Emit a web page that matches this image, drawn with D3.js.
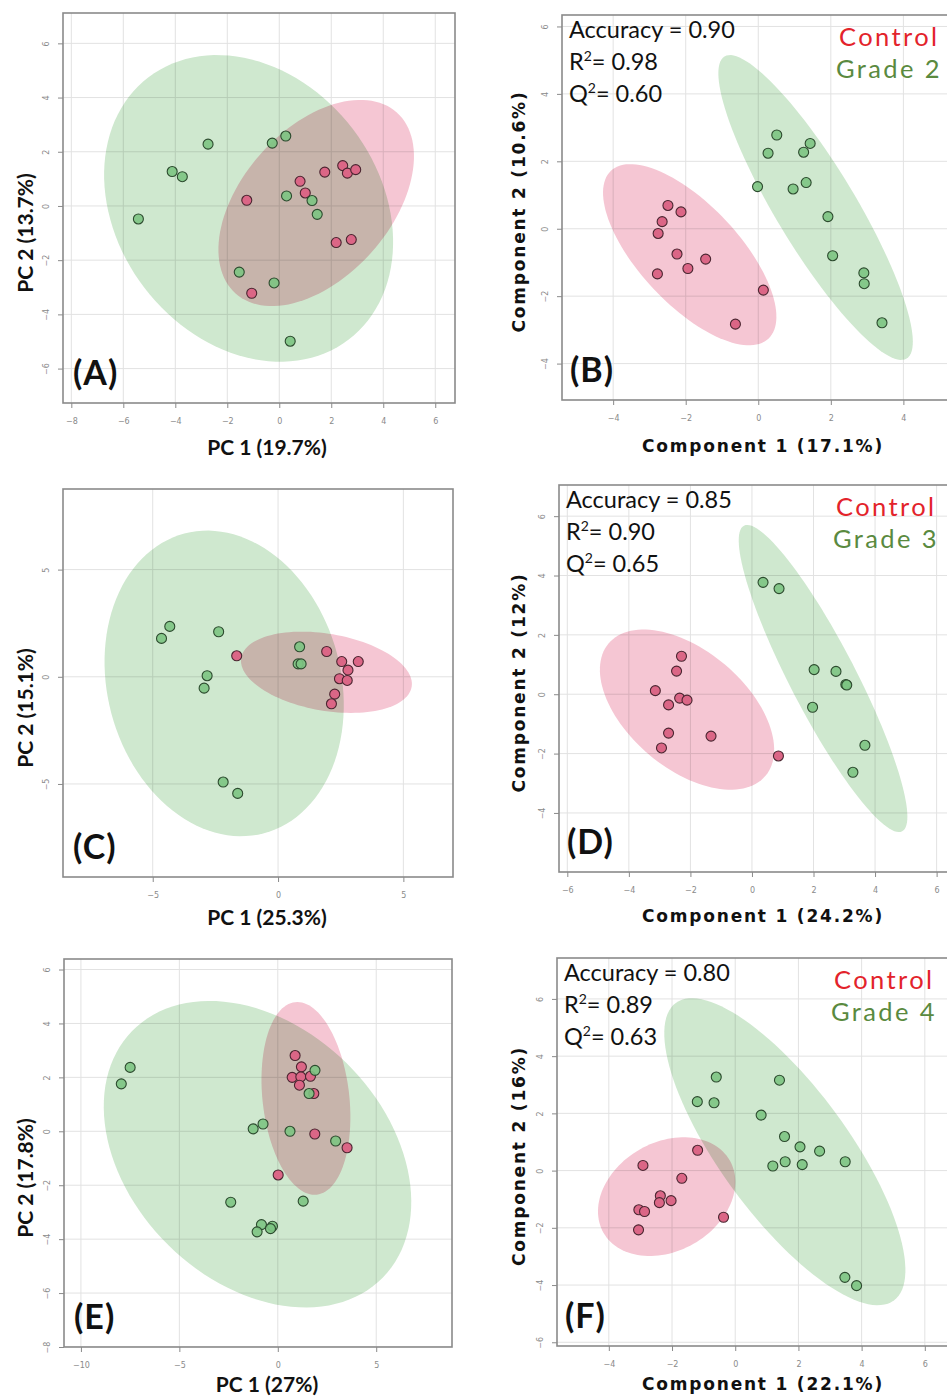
<!DOCTYPE html>
<html>
<head>
<meta charset="utf-8">
<script src="https://cdn.jsdelivr.net/npm/d3@7"></script>
<style>
  body { margin: 0; background: #fff; }
  svg { display: block; }
</style>
</head>
<body>
<svg id="fig" width="947" height="1399"></svg>
<script>
// ---- values (data units of each panel) ----
// points are [x, y]; ellipses are [cx, cy, ux, uy, vx, vy] (centre + two conjugate semi-axes)

// (A) PCA control vs grade 2
var aControl = [[-1.25,0.21],[0.80,0.91],[1.00,0.48],[1.75,1.25],[2.44,1.49],[2.62,1.21],[2.94,1.34],[2.19,-1.35],[2.77,-1.24],[-1.06,-3.22]];
var aGrade = [[-5.42,-0.48],[-4.12,1.27],[-3.73,1.08],[-2.74,2.28],[-0.27,2.32],[0.25,2.58],[0.28,0.37],[1.26,0.20],[1.46,-0.31],[-1.54,-2.44],[-0.20,-2.84],[0.42,-4.99]];
var aControlEllipse = [1.42, 0.11, 3.10, 3.34, 2.13, -1.82];
var aGradeEllipse = [-1.18, -0.09, 3.85, -4.84, -4.01, -2.93];
var aXTicks = [-8, -6, -4, -2, 0, 2, 4, 6];
var aYTicks = [-6, -4, -2, 0, 2, 4, 6];
var aXDomain = [-8.32, 6.76];
var aYDomain = [-7.27, 7.12];

// (B) PLS-DA control vs grade 2
var bControl = [[-2.49,0.69],[-2.13,0.50],[-2.65,0.21],[-2.76,-0.14],[-2.24,-0.75],[-1.94,-1.18],[-1.45,-0.90],[-2.78,-1.34],[0.14,-1.82],[-0.63,-2.83]];
var bGrade = [[0.51,2.78],[0.27,2.24],[1.25,2.27],[1.43,2.53],[-0.02,1.25],[0.96,1.18],[1.32,1.37],[1.92,0.36],[2.05,-0.80],[2.91,-1.31],[2.92,-1.63],[3.41,-2.79]];
var bControlEllipse = [-1.89, -0.77, 2.17, -2.49, -1.00, -1.01];
var bGradeEllipse = [1.58, 0.63, 2.51, -4.48, -0.94, -0.61];
var bXTicks = [-4, -2, 0, 2, 4];
var bYTicks = [-4, -2, 0, 2, 4, 6];
var bXDomain = [-5.41, 5.34];
var bYDomain = [-5.08, 6.34];
var bStats = ["0.90", "0.98", "0.60"];

// (C) PCA control vs grade 3
var cControl = [[-1.65,0.98],[1.94,1.18],[2.54,0.71],[3.20,0.71],[2.79,0.31],[2.45,-0.09],[2.76,-0.17],[2.26,-0.81],[2.13,-1.26]];
var cGrade = [[-4.65,1.79],[-4.32,2.35],[-2.37,2.10],[-2.83,0.05],[-2.95,-0.53],[0.86,1.40],[0.80,0.60],[0.92,0.60],[-2.19,-4.91],[-1.61,-5.44]];
var cControlEllipse = [1.93, 0.21, 3.40, -0.68, -0.26, -1.77];
var cGradeEllipse = [-2.15, -0.31, 1.59, -6.99, -4.50, -1.40];
var cXTicks = [-5, 0, 5];
var cYTicks = [-5, 0, 5];
var cXDomain = [-8.58, 6.98];
var cYDomain = [-9.34, 8.76];

// (D) PLS-DA control vs grade 3
var dControl = [[-2.29,1.28],[-2.45,0.78],[-3.14,0.12],[-2.35,-0.13],[-2.11,-0.20],[-2.71,-0.36],[-2.71,-1.31],[-2.94,-1.81],[-1.33,-1.41],[0.86,-2.08]];
var dGrade = [[0.36,3.77],[0.88,3.56],[2.02,0.83],[2.73,0.77],[3.05,0.33],[3.08,0.31],[1.97,-0.44],[3.67,-1.72],[3.28,-2.63]];
var dControlEllipse = [-2.11, -0.52, 2.55, -2.23, -1.23, -1.52];
var dGradeEllipse = [2.31, 0.53, 2.57, -5.15, -0.95, -0.51];
var dXTicks = [-6, -4, -2, 0, 2, 4, 6];
var dYTicks = [-4, -2, 0, 2, 4, 6];
var dXDomain = [-6.27, 6.50];
var dYDomain = [-5.99, 7.05];
var dStats = ["0.85", "0.90", "0.65"];

// (E) PCA control vs grade 4
var eControl = [[0.88,2.81],[1.20,2.39],[0.73,2.00],[1.17,2.02],[1.66,2.04],[1.10,1.71],[1.83,1.40],[1.88,-0.10],[3.52,-0.61],[0.02,-1.62]];
var eGrade = [[-7.50,2.37],[-7.95,1.76],[1.89,2.26],[1.59,1.40],[-1.25,0.09],[-0.75,0.27],[0.62,0.00],[2.94,-0.36],[-2.39,-2.63],[1.29,-2.59],[-0.83,-3.46],[-1.05,-3.73],[-0.27,-3.52],[-0.37,-3.61]];
var eControlEllipse = [1.43, 1.22, 0.55, -3.57, -2.19, -0.18];
var eGradeEllipse = [-1.03, -0.85, 6.37, -4.57, -4.52, -3.38];
var eXTicks = [-10, -5, 0, 5];
var eYTicks = [-8, -6, -4, -2, 0, 2, 4, 6];
var eXDomain = [-10.86, 8.85];
var eYDomain = [-8.0, 6.39];

// (F) PLS-DA control vs grade 4
var fControl = [[-1.19,0.71],[-2.92,0.18],[-1.69,-0.27],[-2.37,-0.88],[-2.40,-1.12],[-2.03,-1.05],[-3.05,-1.37],[-2.87,-1.43],[-0.37,-1.63],[-3.06,-2.07]];
var fGrade = [[-0.60,3.27],[1.40,3.16],[-1.20,2.41],[-0.67,2.37],[0.82,1.94],[1.56,1.19],[2.05,0.83],[2.67,0.68],[3.48,0.31],[1.58,0.31],[1.19,0.16],[2.12,0.21],[3.47,-3.73],[3.84,-4.02]];
var fControlEllipse = [-2.17, -0.91, 2.00, 1.26, 0.85, -1.65];
var fGradeEllipse = [1.57, 0.66, 3.45, -5.20, -1.63, -1.32];
var fXTicks = [-4, -2, 0, 2, 4, 6];
var fYTicks = [-6, -4, -2, 0, 2, 4, 6];
var fXDomain = [-5.64, 6.86];
var fYDomain = [-6.13, 7.43];
var fStats = ["0.80", "0.89", "0.63"];

var xTitles = ["PC 1 (19.7%)", "Component 1 (17.1%)", "PC 1 (25.3%)", "Component 1 (24.2%)", "PC 1 (27%)", "Component 1 (22.1%)"];
var yTitles = ["PC 2 (13.7%)", "Component 2 (10.6%)", "PC 2 (15.1%)", "Component 2 (12%)", "PC 2 (17.8%)", "Component 2 (16%)"];
var groupNames = ["Control", "Grade 2", "Grade 3", "Grade 4"];

// ---- layout ----
var panels = [
  { id: "A", left: 63, top: 13, width: 392, height: 390, pls: false, titleDy: 52,
    control: aControl, grade: aGrade, ce: aControlEllipse, ge: aGradeEllipse,
    xTicks: aXTicks, yTicks: aYTicks, xDomain: aXDomain, yDomain: aYDomain },
  { id: "B", left: 562, top: 15, width: 390, height: 385, pls: true, titleDy: 52, stats: bStats, grade2: groupNames[1],
    control: bControl, grade: bGrade, ce: bControlEllipse, ge: bGradeEllipse,
    xTicks: bXTicks, yTicks: bYTicks, xDomain: bXDomain, yDomain: bYDomain },
  { id: "C", left: 63, top: 489, width: 390, height: 388, pls: false, titleDy: 48,
    control: cControl, grade: cGrade, ce: cControlEllipse, ge: cGradeEllipse,
    xTicks: cXTicks, yTicks: cYTicks, xDomain: cXDomain, yDomain: cYDomain },
  { id: "D", left: 559, top: 485, width: 393, height: 387, pls: true, titleDy: 50, stats: dStats, grade2: groupNames[2],
    control: dControl, grade: dGrade, ce: dControlEllipse, ge: dGradeEllipse,
    xTicks: dXTicks, yTicks: dYTicks, xDomain: dXDomain, yDomain: dYDomain },
  { id: "E", left: 64, top: 959, width: 388, height: 388, pls: false, titleDy: 45,
    control: eControl, grade: eGrade, ce: eControlEllipse, ge: eGradeEllipse,
    xTicks: eXTicks, yTicks: eYTicks, xDomain: eXDomain, yDomain: eYDomain },
  { id: "F", left: 557, top: 958, width: 395, height: 388, pls: true, titleDy: 44, stats: fStats, grade2: groupNames[3],
    control: fControl, grade: fGrade, ce: fControlEllipse, ge: fGradeEllipse,
    xTicks: fXTicks, yTicks: fYTicks, xDomain: fXDomain, yDomain: fYDomain }
];

var svg = d3.select("#fig");
svg.append("rect").attr("width", 947).attr("height", 1399).attr("fill", "#fff");

var calibri = "Lato, 'Open Sans', sans-serif";
var verdana = "'DejaVu Sans', Verdana, sans-serif";

panels.forEach(function (p, i) {
  var x = d3.scaleLinear().domain(p.xDomain).range([p.left, p.left + p.width]);
  var y = d3.scaleLinear().domain(p.yDomain).range([p.top + p.height, p.top]);
  var g = svg.append("g");

  svg.append("clipPath").attr("id", "clip" + p.id)
    .append("rect").attr("x", p.left).attr("y", p.top).attr("width", p.width).attr("height", p.height);

  var plot = g.append("g").attr("clip-path", "url(#clip" + p.id + ")");

  // grid
  plot.append("g").selectAll("line").data(p.xTicks).join("line")
    .attr("x1", function (d) { return x(d); }).attr("x2", function (d) { return x(d); })
    .attr("y1", p.top).attr("y2", p.top + p.height)
    .attr("stroke", "#e2e2e2").attr("stroke-width", 1);
  plot.append("g").selectAll("line").data(p.yTicks).join("line")
    .attr("y1", function (d) { return y(d); }).attr("y2", function (d) { return y(d); })
    .attr("x1", p.left).attr("x2", p.left + p.width)
    .attr("stroke", "#e2e2e2").attr("stroke-width", 1);

  // confidence ellipses
  function ellipsePath(e) {
    var pts = d3.range(0, 360, 3).map(function (deg) {
      var t = deg * Math.PI / 180;
      return [x(e[0] + e[2] * Math.cos(t) + e[4] * Math.sin(t)),
              y(e[1] + e[3] * Math.cos(t) + e[5] * Math.sin(t))];
    });
    return d3.line().curve(d3.curveLinearClosed)(pts);
  }
  plot.append("path").attr("d", ellipsePath(p.ge))
    .attr("fill", "#cfe8cf").style("mix-blend-mode", "multiply");
  plot.append("path").attr("d", ellipsePath(p.ce))
    .attr("fill", "#f5c6d3").style("mix-blend-mode", "multiply");

  // points
  plot.append("g").selectAll("circle").data(p.control).join("circle")
    .attr("cx", function (d) { return x(d[0]); }).attr("cy", function (d) { return y(d[1]); })
    .attr("r", 5).attr("fill", "#db6686").attr("stroke", "#4a2530").attr("stroke-width", 1.1);
  plot.append("g").selectAll("circle").data(p.grade).join("circle")
    .attr("cx", function (d) { return x(d[0]); }).attr("cy", function (d) { return y(d[1]); })
    .attr("r", 5).attr("fill", "#7cc482").attr("fill-opacity", 0.9)
    .attr("stroke", "#2c4a2e").attr("stroke-width", 1.1);

  // frame
  g.append("rect").attr("x", p.left).attr("y", p.top).attr("width", p.width).attr("height", p.height)
    .attr("fill", "none").attr("stroke", "#8a8a8a").attr("stroke-width", 1.6);

  // axes
  g.append("g").attr("transform", "translate(0," + (p.top + p.height) + ")")
    .call(d3.axisBottom(x).tickValues(p.xTicks).tickSize(5).tickPadding(10))
    .call(function (a) { a.select(".domain").remove(); })
    .call(function (a) { a.selectAll("line").attr("stroke", "#8a8a8a"); })
    .call(function (a) { a.selectAll("text").attr("fill", "#8a8a8a").attr("font-size", 8).attr("font-family", "DejaVu Sans"); });

  g.append("g").attr("transform", "translate(" + p.left + ",0)")
    .call(d3.axisLeft(y).tickValues(p.yTicks).tickSize(5))
    .call(function (a) { a.select(".domain").remove(); })
    .call(function (a) { a.selectAll("line").attr("stroke", "#8a8a8a"); })
    .call(function (a) {
      a.selectAll("text").attr("fill", "#8a8a8a").attr("font-size", 8).attr("font-family", "DejaVu Sans")
        .attr("x", null).attr("dy", null).attr("text-anchor", "middle")
        .attr("transform", "translate(-14,0) rotate(-90)");
    });

  // axis titles
  if (p.pls) {
    g.append("text").attr("x", 763).attr("y", p.top + p.height + p.titleDy)
      .attr("text-anchor", "middle").attr("font-family", verdana)
      .attr("font-weight", "bold").attr("font-size", 17).attr("letter-spacing", 1.8).attr("fill", "#111")
      .text(xTitles[i]);
    g.append("text")
      .attr("transform", "translate(525," + (p.top + p.height / 2 + 4) + ") rotate(-90)")
      .attr("text-anchor", "middle").attr("font-family", verdana)
      .attr("font-weight", "bold").attr("font-size", 17).attr("letter-spacing", 1.8).attr("fill", "#111")
      .text(yTitles[i]);
  } else {
    g.append("text").attr("x", 267).attr("y", p.top + p.height + p.titleDy)
      .attr("text-anchor", "middle").attr("font-family", calibri)
      .attr("font-weight", "bold").attr("font-size", 21).attr("fill", "#111")
      .text(xTitles[i]);
    g.append("text")
      .attr("transform", "translate(33," + (p.top + p.height / 2 + 25) + ") rotate(-90)")
      .attr("text-anchor", "middle").attr("font-family", calibri)
      .attr("font-weight", "bold").attr("font-size", 21).attr("fill", "#111")
      .text(yTitles[i]);
  }

  // panel letter
  g.append("text").attr("x", p.left + (p.pls ? 8 : 10)).attr("y", p.top + p.height - 18)
    .attr("font-family", calibri).attr("font-weight", "bold").attr("font-size", 34)
    .attr("letter-spacing", 1).attr("fill", "#111")
    .text("(" + p.id + ")");

  // PLS-DA statistics and legend
  if (p.pls) {
    var sx = p.left + 7, sy = p.top + 23;
    g.append("text").attr("x", sx).attr("y", sy).attr("font-family", calibri).attr("font-size", 23.5).attr("fill", "#111")
      .text("Accuracy = " + p.stats[0]);
    ["R", "Q"].forEach(function (k, j) {
      var t = g.append("text").attr("x", sx).attr("y", sy + 32 * (j + 1))
        .attr("font-family", calibri).attr("font-size", 23.5).attr("fill", "#111");
      t.append("tspan").text(k);
      t.append("tspan").attr("dy", -9).attr("font-size", 14).text("2");
      t.append("tspan").attr("dy", 9).text("= " + p.stats[j + 1]);
    });
    g.append("text").attr("x", p.left + 277).attr("y", p.top + 31).attr("font-family", calibri)
      .attr("font-size", 25.5).attr("letter-spacing", 2.4).attr("fill", "#e3232b").text(groupNames[0]);
    g.append("text").attr("x", p.left + 274).attr("y", p.top + 63).attr("font-family", calibri)
      .attr("font-size", 25.5).attr("letter-spacing", 2.4).attr("fill", "#5a8a3f").text(p.grade2);
  }
});
</script>
</body>
</html>
